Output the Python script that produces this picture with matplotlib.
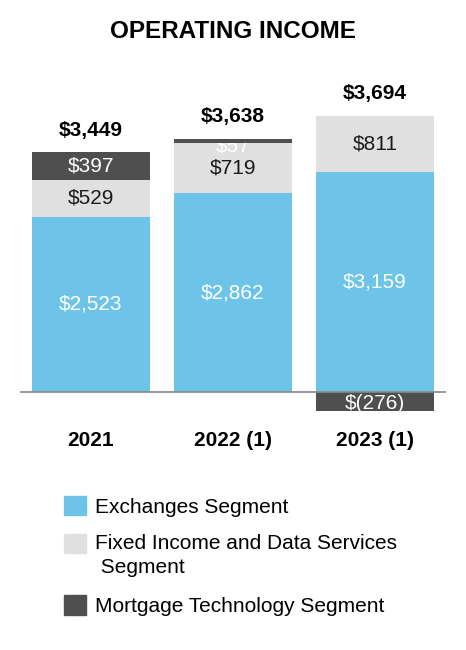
import matplotlib.pyplot as plt
from matplotlib.patches import Patch, Rectangle
from matplotlib.legend_handler import HandlerPatch

plt.rcParams["font.family"] = ["Liberation Sans", "DejaVu Sans"]

years = ["2021", "2022 (1)", "2023 (1)"]
exchanges = [2523, 2862, 3159]
fixed_income = [529, 719, 811]
mortgage = [397, 57, -276]
totals = ["$3,449", "$3,638", "$3,694"]

c_exch = "#6EC4E8"
c_fix = "#E0E0E0"
c_mort = "#4F4F4F"

fig = plt.figure(figsize=(4.66, 6.5), dpi=100)
ax = fig.add_axes([20 / 466, (650 - 413) / 650, 426 / 466, 299 / 650])

x = list(range(len(years)))
w = 0.825

ax.bar(x, exchanges, w, color=c_exch, zorder=2)
ax.bar(x, fixed_income, w, bottom=exchanges, color=c_fix, zorder=2)
mort_bottom = []
for e, f, m in zip(exchanges, fixed_income, mortgage):
    mort_bottom.append(e + f if m > 0 else 0)
ax.bar(x, mortgage, w, bottom=mort_bottom, color=c_mort, zorder=4)

ax.axhline(0, color="#888888", lw=1.2, zorder=5)

fs = 15
for i in x:
    e, f, m = exchanges[i], fixed_income[i], mortgage[i]
    ax.text(i, e / 2, f"${e:,}", ha="center", va="center", color="white", fontsize=fs, zorder=6)
    ax.text(i, e + f / 2, f"${f:,}", ha="center", va="center", color="#1a1a1a", fontsize=fs, zorder=6)
    if m > 150:
        ax.text(i, e + f + m / 2, f"${m:,}", ha="center", va="center", color="white", fontsize=fs, zorder=6)
    elif m > 0:
        ax.text(i, e + f - 40, f"${m:,}", ha="center", va="center", color="white", fontsize=fs, zorder=3)
    else:
        ax.text(i, m / 2 - 20, f"$({-m:,})", ha="center", va="center", color="white", fontsize=fs, zorder=6)
    top = e + f + max(m, 0)
    ax.text(i, top + 320, totals[i], ha="center", va="center", color="black",
            fontsize=15, fontweight="bold", zorder=6)

ax.set_xlim(-0.5, 2.5)
ax.set_ylim(-300, 4000)
ax.axis("off")

for i, lab in enumerate(years):
    fig.text((20 + 426 * (i + 0.5) / 3) / 466, 1 - 440 / 650, lab, ha="center", va="center",
             fontsize=15, fontweight="bold")

fig.text(0.5, 1 - 31 / 650, "OPERATING INCOME", ha="center", va="center",
         fontsize=17.5, fontweight="bold")


# square of the two-line entry sits next to its first line
def raised_square(legend, orig_handle, xdescent, ydescent, width, height, fontsize):
    return Rectangle((-xdescent, -ydescent + 9), width, height)


handles = [Patch(color=c_exch), Patch(color=c_fix), Patch(color=c_mort)]
labels = ["Exchanges Segment", "Fixed Income and Data Services\n Segment", "Mortgage Technology Segment"]
leg = fig.legend(handles, labels, loc="upper left", bbox_to_anchor=(45 / 466, 1 - 477 / 650),
                 frameon=False, fontsize=15, handlelength=1.05, handleheight=1.05,
                 handletextpad=0.43, labelspacing=0.85,
                 handler_map={handles[1]: HandlerPatch(patch_func=raised_square)})
leg.get_texts()[1].set_linespacing(1.35)

fig.savefig("out.png", dpi=100)
